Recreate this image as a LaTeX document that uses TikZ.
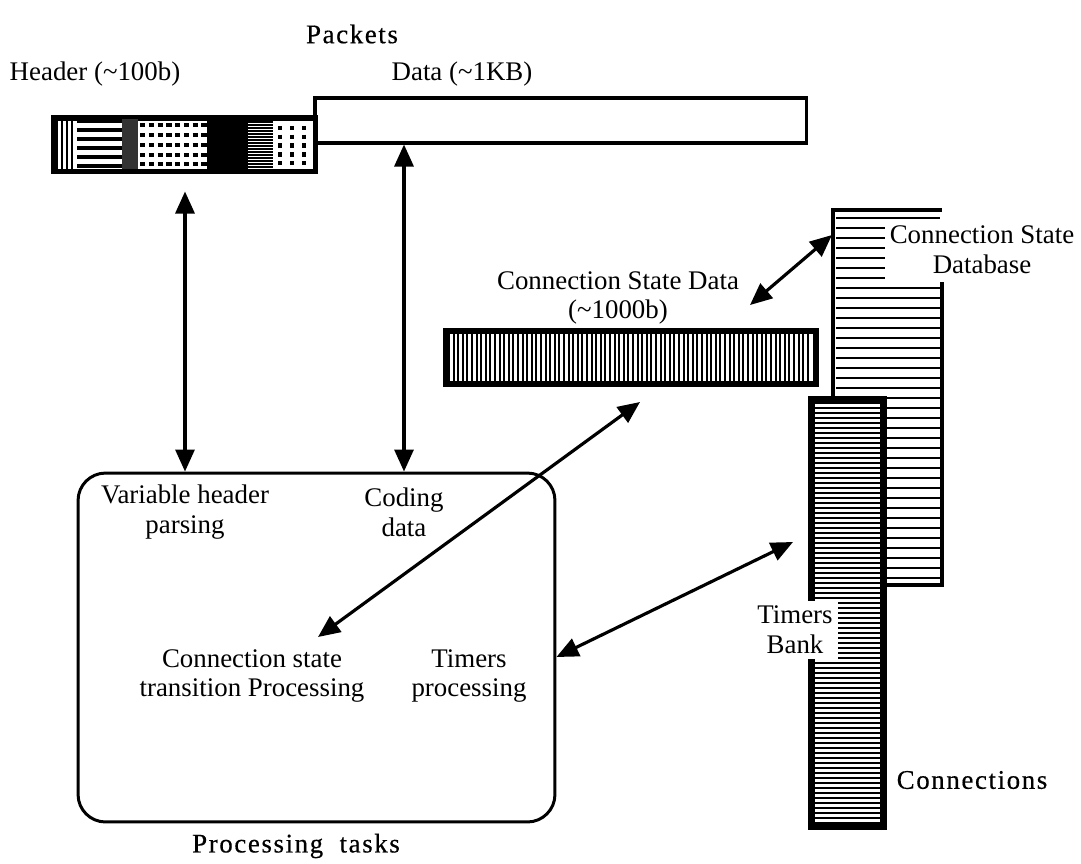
\documentclass[tikz,border=0pt]{standalone}
\usepackage{fontspec}
\setmainfont{Liberation Serif}
\newfontfamily\titlefont[LetterSpace=6,FakeBold=0.5]{Liberation Serif}
\usetikzlibrary{arrows.meta,calc}

\tikzset{
  txt/.style={font=\fontsize{15.3}{17}\selectfont, align=center, inner sep=0pt},
  ttl/.style={font=\titlefont\fontsize{15.3}{17}\selectfont, inner sep=0pt},
  blk/.style={draw, line width=2pt, inner sep=0pt, anchor=north west},
  link/.style={line width=1.8pt, {Triangle[length=0.44cm,width=0.38cm]}-{Triangle[length=0.44cm,width=0.38cm]}},
  hatch/.style={line width=1.1pt}
}

\begin{document}
\begin{tikzpicture}[x=0.02cm, y=-0.02cm]
  \useasboundingbox (0,0) rectangle (1081,863);

  % packets
  \node[ttl] (packets) at (352,34) {Packets};
  \node[txt] (hdrlbl) at (95,74) {Header (\textasciitilde100b)};
  \node[txt] (datalbl) at (462,74) {Data (\textasciitilde1KB)};
  \node[blk, minimum width=9.84cm, minimum height=0.9cm] (data) at (313,96) {};
  \node[blk, fill=white, minimum width=5.2cm, minimum height=1.04cm] (hdr) at (53,117) {};
  \begin{scope}
    \clip (hdr.south west) rectangle (hdr.north east);
    \foreach \x in {57,62,67,72} \draw[hatch] (\x,117) -- (\x,169);
    \foreach \y in {121,130,139,148,157,166} \draw[line width=2pt] (77,\y) -- (122,\y);
    \fill[black!80] (122,117) rectangle (138,169);
    \foreach \y in {125,135,145,155,164}
      \draw[line width=2.2pt, dash pattern=on 3pt off 2pt] (140,\y) -- (207,\y);
    \fill (207,117) rectangle (248,169);
    \foreach \y in {119,122,...,169} \draw[line width=0.8pt] (248,\y) -- (273,\y);
    \foreach \x in {280,292,304}
      \draw[line width=2.4pt, dash pattern=on 2.5pt off 2.5pt] (\x,117) -- (\x,169);
  \end{scope}
  \draw[line width=2pt] (hdr.south west) rectangle (hdr.north east);

  % processing tasks
  \node[draw, line width=1.7pt, rounded corners=0.55cm, minimum width=9.54cm, minimum height=6.98cm] (tasks) at (316.5,647.5) {};
  \node[txt] (parse) at (185,512) {Variable header\\parsing};
  \node[txt] (coding) at (404,512) {Coding\\data};
  \node[txt] (cstate) at (252,676) {Connection state\\transition Processing};
  \node[txt] (timproc) at (469,676) {Timers\\processing};
  \node[ttl] (tasksttl) at (296,846) {Processing\hspace{0.3em} tasks};

  % connection state data
  \node[txt] (csdlbl) at (618,298) {Connection State Data\\(\textasciitilde1000b)};
  \node[blk, minimum width=7.36cm, minimum height=1.02cm] (csd) at (445,330) {};
  \begin{scope}
    \clip (csd.south west) rectangle (csd.north east);
    \foreach \x in {449,453.6,...,812} \draw[hatch] (\x,330) -- (\x,381);
  \end{scope}
  \draw[line width=2.5pt] (csd.south west) rectangle (csd.north east);

  % connections
  \coordinate (dbnw) at (833,210);
  \coordinate (dbse) at (942,585);
  \foreach \y in {218,228,...,580} \draw[line width=1.3pt] (836,\y) -- (940,\y);
  \draw[line width=2pt] (dbnw |- 0,398) -- (dbnw) -- (dbnw -| dbse);
  \draw[line width=2pt] (dbse |- 0,282) -- (dbse) -- (880,585);
  \node[txt, fill=white, inner sep=3pt] (dblbl) at (982,250) {Connection State\\Database};
  \node[blk, fill=white, line width=2.6pt, minimum width=1.4cm, minimum height=8.5cm] (bank) at (810,398) {};
  \begin{scope}
    \clip (bank.south west) rectangle (bank.north east);
    \foreach \y in {403,408,...,823} \draw[line width=0.9pt] (810,\y) -- (880,\y);
  \end{scope}
  \draw[line width=2.6pt] (bank.south west) rectangle (bank.north east);
  \node[txt, fill=white, inner sep=3pt] (banklbl) at (795,630) {Timers\\Bank};
  \node[ttl] (conn) at (972,780) {Connections};

  % links
  \coordinate (csdend) at (640,402);
  \coordinate (cstend) at (318,637);
  \coordinate (dbend) at (832,235);
  \coordinate (csdlblend) at (750,305);
  \coordinate (bankend) at (793,542);
  \draw[link] ([yshift=-0.38cm]hdr.south -| parse) -- (tasks.north -| parse);
  \draw[link] (data.south -| coding) -- (tasks.north -| coding);
  \draw[link] (csdend) -- (cstend);
  \draw[link] (csdlblend) -- (dbend);
  \draw[link] (tasks.east |- 0,657) -- (bankend);
\end{tikzpicture}
\end{document}
